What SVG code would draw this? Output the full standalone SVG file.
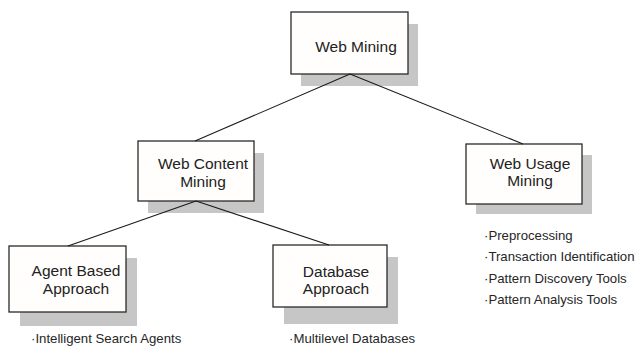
<svg xmlns="http://www.w3.org/2000/svg" width="641" height="349" viewBox="0 0 641 349">
  <style>
    .shadow { fill: #c6c6c6; }
    .box { fill: #fffefc; stroke: #2a2a2a; stroke-width: 1.3; }
    .label { font-family: "Liberation Sans", Arial, sans-serif; font-size: 15.5px; fill: #222; text-anchor: middle; }
    .note { font-family: "Liberation Sans", Arial, sans-serif; font-size: 13.2px; fill: #262626; }
    .edge { stroke: #1a1a1a; stroke-width: 1.1; fill: none; }
  </style>
  <rect width="641" height="349" fill="#ffffff"/>

  <g id="web-mining">
    <rect class="shadow" x="301" y="24" width="117" height="62"/>
    <rect class="box" x="291" y="12" width="117" height="62"/>
    <text class="label" x="356" y="52">Web Mining</text>
  </g>

  <g id="web-content-mining">
    <rect class="shadow" x="148" y="153" width="116" height="60"/>
    <rect class="box" x="138" y="141" width="116" height="60"/>
    <text class="label" x="203" y="169">Web Content</text>
    <text class="label" x="203" y="187">Mining</text>
  </g>

  <g id="web-usage-mining">
    <rect class="shadow" x="476" y="155" width="116" height="59"/>
    <rect class="box" x="466" y="144" width="116" height="60"/>
    <text class="label" x="530" y="169">Web Usage</text>
    <text class="label" x="530" y="186">Mining</text>
  </g>

  <g id="agent-based-approach">
    <rect class="shadow" x="20" y="258" width="117" height="68"/>
    <rect class="box" x="9" y="246" width="117" height="66"/>
    <text class="label" x="76" y="276">Agent Based</text>
    <text class="label" x="76" y="294">Approach</text>
    <text class="note" x="31" y="343">·Intelligent Search Agents</text>
  </g>

  <g id="database-approach">
    <rect class="shadow" x="284" y="257" width="114" height="67"/>
    <rect class="box" x="273" y="245" width="114" height="62"/>
    <text class="label" x="336" y="277">Database</text>
    <text class="label" x="336" y="294">Approach</text>
    <text class="note" x="289" y="343">·Multilevel Databases</text>
  </g>

  <g id="web-usage-notes">
    <text class="note" x="484" y="240">·Preprocessing</text>
    <text class="note" x="484" y="261">·Transaction Identification</text>
    <text class="note" x="484" y="283">·Pattern Discovery Tools</text>
    <text class="note" x="484" y="304">·Pattern Analysis Tools</text>
  </g>

  <!-- tree edges drawn last so they stay visible over the drop shadows -->
  <g id="connectors">
    <line class="edge" x1="350" y1="74" x2="195" y2="141"/>
    <line class="edge" x1="350" y1="74" x2="523" y2="144"/>
    <line class="edge" x1="196" y1="201" x2="68" y2="246"/>
    <line class="edge" x1="196" y1="201" x2="329" y2="245"/>
  </g>
</svg>
